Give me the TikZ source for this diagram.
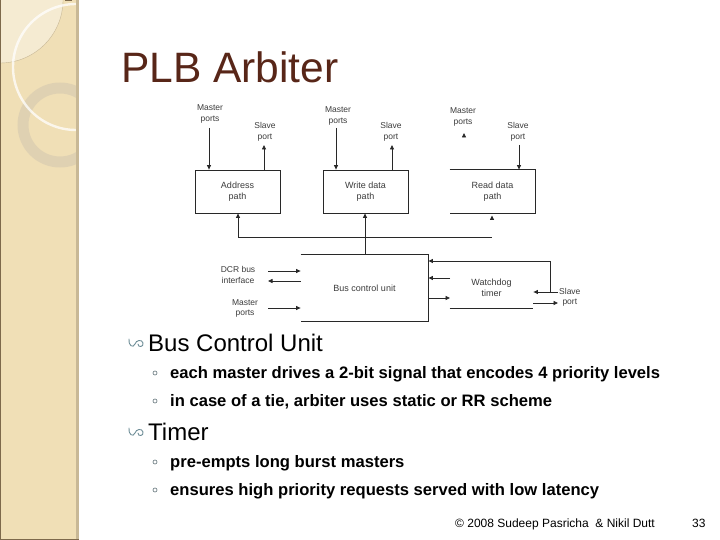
\documentclass[tikz,border=0pt]{standalone}
\usepackage{fontspec}
\setmainfont{Liberation Sans}
\usetikzlibrary{arrows.meta}
\definecolor{band}{RGB}{240,223,182}
\definecolor{bandlight}{RGB}{245,235,210}
\definecolor{bandedge}{RGB}{200,184,150}
\definecolor{banddark}{RGB}{125,105,75}
\definecolor{ringgray}{RGB}{222,208,178}
\definecolor{titlecol}{RGB}{88,38,24}
\definecolor{bulletcol}{RGB}{108,140,150}
\definecolor{subbul}{RGB}{120,135,140}
\definecolor{diag}{RGB}{40,40,40}
\definecolor{lbl}{RGB}{60,60,60}
\tikzset{
  lab/.style={font=\fontsize{8.5}{10.5}\selectfont, text=lbl, align=center, inner sep=0pt},
  boxlab/.style={font=\fontsize{9}{11}\selectfont, text=lbl, align=center, inner sep=0pt},
  blk/.style={draw=diag, line width=0.8pt, minimum width=85pt, minimum height=43pt, inner sep=0pt, boxlab},
  openblk/.style={line width=0.8pt, inner sep=0pt, boxlab},
  ln/.style={draw=diag, line width=0.8pt},
  arr/.style={ln, -{Triangle[length=4.5pt,width=4pt]}},
  head/.style={font=\fontsize{24}{28}\selectfont, anchor=base west, inner sep=0pt},
  sub/.style={font=\bfseries\fontsize{16.6}{19}\selectfont, anchor=base west, inner sep=0pt},
  wbullet/.pic={\draw[bulletcol, line width=0.9pt, line cap=round]
     (0,-4) .. controls (-1,2) and (4,6) .. (6,1) .. controls (7,-3) and (13,-4) .. (14,0) .. controls (15,4) and (9,5) .. (9,1);},
  sbullet/.pic={\draw[subbul, line width=0.7pt] (0,0) circle (2pt);}
}
\begin{document}
\begin{tikzpicture}[x=1pt,y=-1pt]
\useasboundingbox (0,0) rectangle (720,540);
\fill[white] (0,0) rectangle (720,540);
% sidebar
\begin{scope}
\clip (0,0) rectangle (77,540);
\fill[band] (0,0) rectangle (77,540);
\fill[bandlight, draw=bandedge, line width=0.4pt] (0,0) circle (63);
\draw[ringgray, line width=11pt, opacity=0.9] (60,125) circle (37);
\draw[white, line width=2.4pt, opacity=0.75] (76,67) circle (63);
\end{scope}
\fill[bandedge] (76,0) rectangle (79,540);
\fill[banddark] (0,0) rectangle (1.2,540);
\fill[banddark] (0,538.5) rectangle (79,540);
\fill[banddark] (65,0) rectangle (72,1.2);
% title
\node[font=\fontsize{42.5}{48}\selectfont, text=titlecol, anchor=base west, inner sep=0pt] (title) at (121,83) {PLB Arbiter};
% diagram blocks
\node[blk] (addr) at (237.5,191.5) {Address\\path};
\node[blk] (write) at (365.5,191.5) {Write data\\path};
\node[openblk, minimum width=85pt, minimum height=43pt] (read) at (492.5,191.5) {Read data\\path};
\draw[ln] (read.north west) -- (read.north east) -- (read.south east) -- (read.south west);
\node[openblk, minimum width=127pt, minimum height=66pt] (bcu) at (364.5,288) {Bus control unit};
\draw[ln] (bcu.north west) -- (bcu.north east) -- (bcu.south east) -- (bcu.south west);
\node[openblk, minimum width=83pt, minimum height=40pt] (wdt) at (491.5,288) {Watchdog\\timer};
\draw[ln] (wdt.south west) -- (wdt.south east);
% top labels
\node[lab] (am) at (210,114) {Master\\ports};
\node[lab] (as) at (265,132) {Slave\\port};
\node[lab] (wm) at (338,116) {Master\\ports};
\node[lab] (ws) at (391,132) {Slave\\port};
\node[lab] (rm) at (463,117) {Master\\ports};
\node[lab] (rs) at (518,132) {Slave\\port};
% top connectors
\coordinate (amtop) at (209,128);
\draw[arr] (amtop) -- (amtop |- addr.north);
\coordinate (astop) at (264,145);
\draw[arr] (astop |- addr.north) -- (astop);
\coordinate (wmtop) at (336,128);
\draw[arr] (wmtop) -- (wmtop |- write.north);
\coordinate (wstop) at (392,145);
\draw[arr] (wstop |- write.north) -- (wstop);
\coordinate (rmh) at (464,136);
\draw[arr] (rmh) -- ++(0,-3);
\coordinate (rstop) at (519,145);
\draw[arr] (rstop) -- (rstop |- read.north);
% bus under blocks
\coordinate (busL) at (238,237);
\coordinate (busR) at (492,237);
\draw[ln] (busL) -- (busR);
\draw[arr] (busL) -- (busL |- addr.south);
\coordinate (busM) at (365,237);
\draw[arr] (busM |- bcu.north) -- (busM |- write.south);
\coordinate (rdh) at (492,218.5);
\draw[arr] (rdh) -- ++(0,-3);
% left of BCU
\node[lab] (dcr) at (238,275) {DCR bus\\interface};
\node[lab] (bm) at (245,308.5) {Master\\ports};
\coordinate (d1) at (268,271);
\coordinate (d2) at (268,281);
\coordinate (d3) at (268,308);
\draw[arr] (d1) -- (bcu.west |- d1);
\draw[arr] (bcu.west |- d2) -- (d2);
\draw[arr] (d3) -- (bcu.west |- d3);
% right of BCU
\node[lab, anchor=west] (sp) at (559,297.5) {Slave\\port};
\coordinate (s1) at (558,292);
\coordinate (s2) at (558,303);
\coordinate (sv) at (550,292);
\draw[arr] (s1) -- (wdt.east |- s1);
\draw[arr] (wdt.east |- s2) -- (s2);
\draw[arr] (sv) -- (550,261) -- (bcu.east |- 0,261);
\coordinate (w1) at (450,278);
\coordinate (w2) at (450,298);
\draw[arr] (w1) -- (bcu.east |- w1);
\draw[arr] (bcu.east |- w2) -- (w2);
% bullets
\pic at (129,343) {wbullet};
\node[head] (h1) at (148,351.5) {Bus Control Unit};
\pic at (155,373) {sbullet};
\node[sub] (t1) at (170,378.5) {each master drives a 2-bit signal that encodes 4 priority levels};
\pic at (155,401) {sbullet};
\node[sub] (t2) at (170,406.5) {in case of a tie, arbiter uses static or RR scheme};
\pic at (129,432) {wbullet};
\node[head] (h2) at (148,440.5) {Timer};
\pic at (155,462) {sbullet};
\node[sub] (t3) at (170,467.5) {pre-empts long burst masters};
\pic at (155,490) {sbullet};
\node[sub] (t4) at (170,495.5) {ensures high priority requests served with low latency};
% footer
\node[font=\fontsize{12}{14}\selectfont, anchor=base west, inner sep=0pt] (foot) at (455,527) {© 2008 Sudeep Pasricha\ \ \& Nikil Dutt};
\node[font=\fontsize{12}{14}\selectfont, anchor=base west, inner sep=0pt] (pg) at (692,527) {33};
\end{tikzpicture}
\end{document}
